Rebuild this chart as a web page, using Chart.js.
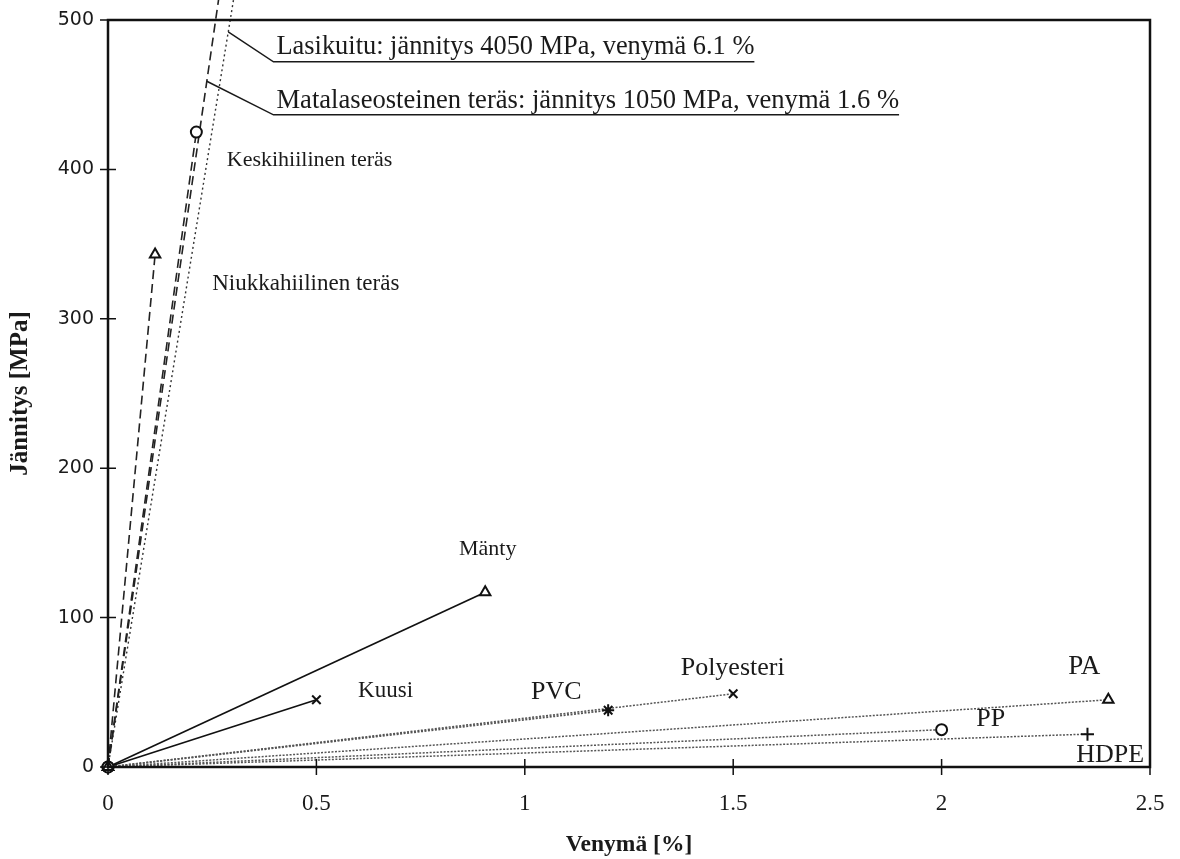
<!DOCTYPE html>
<html lang="fi">
<head>
<meta charset="utf-8">
<title>Jännitys–venymä</title>
<script src="https://cdn.jsdelivr.net/npm/chart.js@4.4.1/dist/chart.umd.min.js"></script>
<style>
  html, body { margin: 0; padding: 0; background: #fff; }
  #wrap { width: 1180px; height: 859px; position: relative; }
</style>
</head>
<body>
<div id="wrap"><canvas id="c" width="1180" height="859"></canvas></div>
<script>
// Materials and the end point of each line (strain %, stress MPa); every line starts at the origin.
const materials = [
  'Niukkahiilinen teräs', 'Keskihiilinen teräs', 'Matalaseosteinen teräs', 'Lasikuitu',
  'Mänty', 'Kuusi', 'PVC', 'Polyesteri', 'PA', 'PP', 'HDPE'
];
const strainEnd = [0.113, 0.212, 0.266, 0.302, 0.905, 0.5, 1.2, 1.5, 2.4, 2.0, 2.35];
const stressEnd = [343, 425, 515, 515, 117, 45, 38, 49, 45, 25, 22];

// Axis ticks
const xTickValues = [0, 0.5, 1, 1.5, 2, 2.5];
const xTickLabels = ['0', '0.5', '1', '1.5', '2', '2.5'];
const yTickValues = [0, 100, 200, 300, 400, 500];
const yTickLabels = ['0', '100', '200', '300', '400', '500'];

// Drawing style per material
const styles = {
  'Niukkahiilinen teräs':   { dash: [9, 5], color: '#222', width: 1.6, marker: 'triangle', r: 6 },
  'Keskihiilinen teräs':    { dash: [9, 5], color: '#222', width: 1.6, marker: 'circle', r: 5.5 },
  'Matalaseosteinen teräs': { dash: [9, 5], color: '#222', width: 1.6, marker: false, r: 0 },
  'Lasikuitu':              { dash: [2, 3], color: '#333', width: 1.4, marker: false, r: 0 },
  'Mänty':                  { dash: [], color: '#111', width: 1.7, marker: 'triangle', r: 6 },
  'Kuusi':                  { dash: [], color: '#111', width: 1.7, marker: 'crossRot', r: 6 },
  'PVC':                    { dash: [2, 1.5], color: '#555', width: 1.8, marker: 'star', r: 6 },
  'Polyesteri':             { dash: [2, 1.5], color: '#555', width: 1.5, marker: 'crossRot', r: 6 },
  'PA':                     { dash: [2, 1.5], color: '#555', width: 1.5, marker: 'triangle', r: 6 },
  'PP':                     { dash: [2, 1.5], color: '#555', width: 1.5, marker: 'circle', r: 5.5 },
  'HDPE':                   { dash: [2, 1.5], color: '#555', width: 1.5, marker: 'cross', r: 6.5 }
};

// Text labels placed in data coordinates (left edge, vertical centre)
const labelTexts = ['Keskihiilinen teräs', 'Niukkahiilinen teräs', 'Mänty', 'Kuusi', 'PVC', 'Polyesteri', 'PA', 'PP', 'HDPE'];
const labelAt = {
  'Keskihiilinen teräs':  { x: 0.285, y: 406, size: 22 },
  'Niukkahiilinen teräs': { x: 0.25,  y: 323, size: 23 },
  'Mänty':                { x: 0.842, y: 146, size: 22 },
  'Kuusi':                { x: 0.6,   y: 51,  size: 23 },
  'PVC':                  { x: 1.015, y: 50,  size: 26 },
  'Polyesteri':           { x: 1.374, y: 66,  size: 26 },
  'PA':                   { x: 2.304, y: 67,  size: 27 },
  'PP':                   { x: 2.083, y: 32,  size: 26 },
  'HDPE':                 { x: 2.323, y: 8,   size: 26 }
};

// Call-outs for the lines that leave the chart at the top
const callouts = [
  { text: 'Lasikuitu: jännitys 4050 MPa, venymä 6.1 %', line: 'Lasikuitu', fromY: 492, x: 0.397, y: 472, textY: 482, size: 26.4 },
  { text: 'Matalaseosteinen teräs: jännitys 1050 MPa, venymä 1.6 %', line: 'Matalaseosteinen teräs', fromY: 459, x: 0.397, y: 436.5, textY: 446, size: 26.6 }
];

const SERIF = '"Liberation Serif", "DejaVu Serif", serif';

const datasets = materials.map((name, i) => {
  const s = styles[name];
  return {
    label: name,
    data: [{ x: 0, y: 0 }, { x: strainEnd[i], y: stressEnd[i] }],
    showLine: true,
    borderColor: s.color,
    borderWidth: s.width,
    borderDash: s.dash,
    pointStyle: s.marker,
    pointRadius: s.r,
    pointBorderColor: '#111',
    pointBackgroundColor: '#fff',
    pointBorderWidth: 2,
    clip: false,
    order: i
  };
});

const frameAndTicks = {
  id: 'frameAndTicks',
  afterDatasetsDraw(chart) {
    const { ctx, chartArea: a, scales: { x, y } } = chart;
    ctx.save();
    ctx.strokeStyle = '#111';
    ctx.lineWidth = 2.5;
    ctx.strokeRect(a.left, a.top, a.right - a.left, a.bottom - a.top);
    ctx.lineWidth = 1.5;
    ctx.beginPath();
    xTickValues.forEach(v => {
      const px = x.getPixelForValue(v);
      ctx.moveTo(px, a.bottom - 8); ctx.lineTo(px, a.bottom + 8);
    });
    yTickValues.forEach(v => {
      const py = y.getPixelForValue(v);
      ctx.moveTo(a.left - 8, py); ctx.lineTo(a.left + 8, py);
    });
    ctx.stroke();
    ctx.restore();
  }
};

const textLabels = {
  id: 'textLabels',
  afterDraw(chart) {
    const { ctx, scales: { x, y } } = chart;
    ctx.save();
    ctx.fillStyle = '#1a1a1a';
    ctx.textBaseline = 'middle';
    ctx.textAlign = 'left';
    labelTexts.forEach(t => {
      const p = labelAt[t];
      ctx.font = p.size + 'px ' + SERIF;
      ctx.fillText(t, x.getPixelForValue(p.x), y.getPixelForValue(p.y));
    });
    callouts.forEach(c => {
      const i = materials.indexOf(c.line);
      const slope = strainEnd[i] / stressEnd[i];
      const sx = x.getPixelForValue(c.fromY * slope), sy = y.getPixelForValue(c.fromY);
      const ex = x.getPixelForValue(c.x), ey = y.getPixelForValue(c.y);
      ctx.font = c.size + 'px ' + SERIF;
      const tx = ex + 3;
      const w = ctx.measureText(c.text).width;
      ctx.fillText(c.text, tx, y.getPixelForValue(c.textY));
      ctx.strokeStyle = '#1a1a1a';
      ctx.lineWidth = 1.5;
      ctx.beginPath();
      ctx.moveTo(sx, sy); ctx.lineTo(ex, ey); ctx.lineTo(tx + w, ey);
      ctx.stroke();
    });
    ctx.restore();
  }
};

new Chart(document.getElementById('c'), {
  type: 'scatter',
  data: { datasets },
  options: {
    responsive: false,
    animation: false,
    layout: { padding: { left: 0, right: 30, top: 20, bottom: 0 } },
    plugins: { legend: { display: false }, tooltip: { enabled: false } },
    scales: {
      x: {
        type: 'linear', min: 0, max: 2.5,
        afterBuildTicks: s => { s.ticks = xTickValues.map(v => ({ value: v })); },
        afterFit: s => { s.height = 92; s.paddingLeft = 0; s.paddingRight = 0; },
        grid: { display: false, drawTicks: false },
        border: { display: false },
        ticks: {
          padding: 23,
          color: '#1a1a1a',
          font: { family: SERIF, size: 23 },
          callback: v => xTickLabels[xTickValues.indexOf(v)]
        },
        title: {
          display: true, text: 'Venymä [%]', color: '#1a1a1a',
          font: { family: SERIF, size: 23.5, weight: 'bold' },
          padding: { top: 7, bottom: 0 }
        }
      },
      y: {
        type: 'linear', min: 0, max: 500,
        afterBuildTicks: s => { s.ticks = yTickValues.map(v => ({ value: v })); },
        afterFit: s => { s.width = 108; s.paddingTop = 0; s.paddingBottom = 0; },
        grid: { display: false, drawTicks: false },
        border: { display: false },
        ticks: {
          padding: 14,
          color: '#1a1a1a',
          font: { family: '"DejaVu Sans", sans-serif', size: 19 },
          callback: v => yTickLabels[yTickValues.indexOf(v)]
        },
        title: {
          display: true, text: 'Jännitys [MPa]', color: '#1a1a1a',
          font: { family: SERIF, size: 25, weight: 'bold' },
          padding: { top: 6, bottom: 0 }
        }
      }
    }
  },
  plugins: [frameAndTicks, textLabels]
});
</script>
</body>
</html>
